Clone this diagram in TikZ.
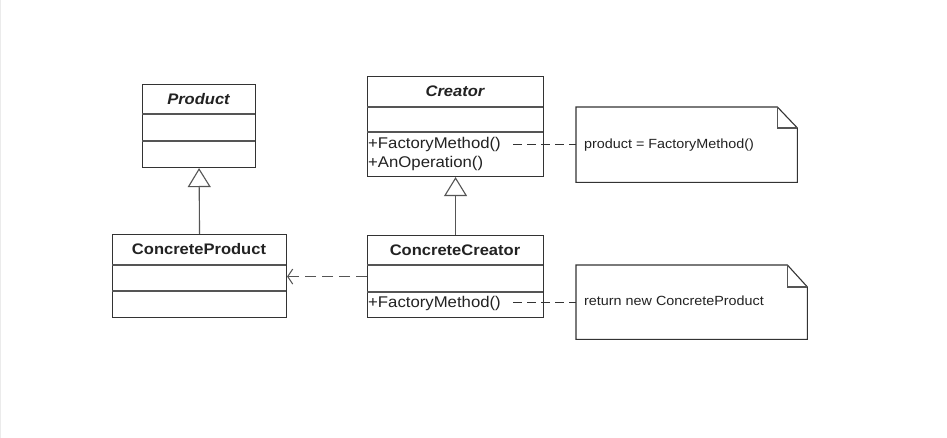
\documentclass[tikz,border=0pt]{standalone}
\usepackage{fontspec}
\setmainfont[FakeStretch=1.08]{Liberation Sans}
\usetikzlibrary{arrows.meta,calc}
\definecolor{ln}{HTML}{333333}
\definecolor{tx}{HTML}{222222}
\definecolor{gl}{HTML}{555555}
\begin{document}
\begin{tikzpicture}[x=1pt,y=-1pt,
  cls/.style={draw=ln, line width=1.1pt, inner sep=0pt, anchor=north west},
  ttl/.style={font=\fontsize{15.3}{15.3}\selectfont\bfseries, text=tx},
  mth/.style={font=\fontsize{15.5}{15.5}\selectfont, text=tx, anchor=west, inner sep=0pt},
  sep/.style={draw=gl, line width=1.1pt},
  inh/.style={draw=gl, line width=1.1pt, -{Triangle[open, length=19pt, width=23pt, line width=1.1pt]}},
  dep/.style={draw=gl, line width=1.1pt, dash pattern=on 11pt off 6pt, -{Straight Barb[length=5pt, width=15pt, line width=1pt]}},
  lnk/.style={draw=ln, line width=1pt, dash pattern=on 9pt off 5pt},
  notebox/.style={inner sep=0pt, anchor=north west},
  notetxt/.style={font=\fontsize{13.3}{13.3}\selectfont, text=tx, anchor=west, inner sep=0pt}
]
\useasboundingbox (0,0) rectangle (947,438);
\fill[white] (0,0) rectangle (947,438);
\draw[draw=black!8, line width=1pt] (0.5,0) -- (0.5,438);

% Product
\node[cls, minimum width=113pt, minimum height=83pt] (product) at (142,84) {};
\node[ttl] (productT) at (198.5,99) {\itshape Product};
\draw[sep] (142,114) -- (255,114);
\draw[sep] (142,141) -- (255,141);

% ConcreteProduct
\node[cls, minimum width=174pt, minimum height=83pt] (cprod) at (112,234) {};
\node[ttl] (cprodT) at (199,249.5) {ConcreteProduct};
\draw[sep] (112,265) -- (286,265);
\draw[sep] (112,291) -- (286,291);

% Creator
\node[cls, minimum width=176pt, minimum height=100pt] (creator) at (367,76) {};
\node[ttl] (creatorT) at (455,91) {\itshape Creator};
\draw[sep] (367,107) -- (543,107);
\draw[sep] (367,132) -- (543,132);
\node[mth] (fm1) at (368,144.5) {+FactoryMethod()};
\node[mth] (anop) at (368,163.5) {+AnOperation()};

% ConcreteCreator
\node[cls, minimum width=176pt, minimum height=82pt] (ccreator) at (367,235) {};
\node[ttl] (ccreatorT) at (455,250) {ConcreteCreator};
\draw[sep] (367,265) -- (543,265);
\draw[sep] (367,292) -- (543,292);
\node[mth] (fm2) at (368,303.5) {+FactoryMethod()};

% Notes
\node[notebox, minimum width=221pt, minimum height=75pt] (note1) at (576,107) {};
\draw[draw=ln, line width=1.1pt] (note1.south west) -- (note1.north west) -- ($(note1.north east)+(-20,0)$) -- ($(note1.north east)+(0,21)$) -- (note1.south east) -- cycle;
\draw[draw=gl, line width=1.1pt] ($(note1.north east)+(-20,0)$) -- ($(note1.north east)+(-20,21)$) -- ($(note1.north east)+(0,21)$);
\node[notetxt] (note1T) at (584,145) {product = FactoryMethod()};

\node[notebox, minimum width=231pt, minimum height=74pt] (note2) at (576,265) {};
\draw[draw=ln, line width=1.1pt] (note2.south west) -- (note2.north west) -- ($(note2.north east)+(-20,0)$) -- ($(note2.north east)+(0,22)$) -- (note2.south east) -- cycle;
\draw[draw=gl, line width=1.1pt] ($(note2.north east)+(-20,0)$) -- ($(note2.north east)+(-20,22)$) -- ($(note2.north east)+(0,22)$);
\node[notetxt] (note2T) at (584,300.5) {return new ConcreteProduct};

% Connectors
\draw[inh] (cprod.north) -- (product.south);
\draw[inh] (ccreator.north) -- (creator.south);
\draw[dep] (ccreator.west) -- (cprod.east |- ccreator.west);
\coordinate (l1) at (513,144.5);
\coordinate (l2) at (513,302);
\draw[lnk] (l1) -- (l1 -| note1.west);
\draw[lnk] (l2) -- (l2 -| note2.west);
\end{tikzpicture}
\end{document}
